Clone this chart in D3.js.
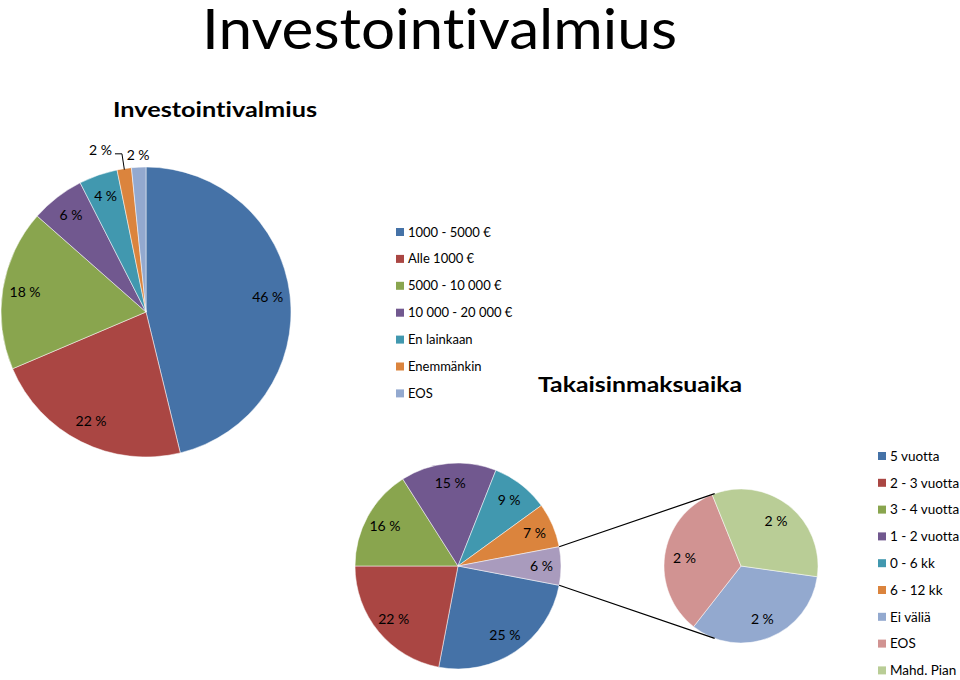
<!DOCTYPE html>
<html>
<head>
<meta charset="utf-8">
<script src="https://cdn.jsdelivr.net/npm/d3@7/dist/d3.min.js"></script>
<style>
  html, body { margin: 0; padding: 0; background: #ffffff; }
  svg { display: block; }
  text { font-family: Lato, "Open Sans", "DejaVu Sans", sans-serif; fill: #000; font-variant-ligatures: none; }
</style>
</head>
<body>
<svg id="chart" width="960" height="680"></svg>
<script>
// ---- Data ----
const mainTitle = "Investointivalmius";
const chart1Title = "Investointivalmius";
const chart1Categories = ["1000 - 5000 €", "Alle 1000 €", "5000 - 10 000 €", "10 000 - 20 000 €", "En lainkaan", "Enemmänkin", "EOS"];
const chart1Values = [46.2, 22.4, 17.9, 6.0, 4.3, 1.6, 1.6];
const chart1Colors = ["#4572A7", "#AA4643", "#89A54E", "#71588F", "#4198AF", "#DB843D", "#93A9CF"];

const chart2Title = "Takaisinmaksuaika";
const chart2Categories = ["5 vuotta", "2 - 3 vuotta", "3 - 4 vuotta", "1 - 2 vuotta", "0 - 6 kk", "6 - 12 kk", "Ei väliä", "EOS", "Mahd. Pian"];
const chart2Values = [25, 22, 16, 15, 9, 7, 2, 2, 2];
const chart2Colors = ["#4572A7", "#AA4643", "#89A54E", "#71588F", "#4198AF", "#DB843D", "#93A9CF", "#D19392", "#B9CD96"];
const chart2PrimaryCount = 6;          // first six in the main pie, rest in secondary pie
const otherColor = "#A99BBD";

// ---- Helpers ----
const svg = d3.select("#chart");
const deg = Math.PI / 180;
const fmt = v => Math.round(v) + " %";
const polar = (cx, cy, r, a) => [cx + r * Math.sin(a), cy - r * Math.cos(a)];

// ---- Main title ----
svg.append("text")
  .attr("x", 202).attr("y", 49)
  .attr("font-size", 57)
  .attr("textLength", 475).attr("lengthAdjust", "spacingAndGlyphs")
  .text(mainTitle);

// ---- Chart 1 ----
svg.append("text")
  .attr("x", 113).attr("y", 117)
  .attr("font-size", 21).attr("font-weight", "bold")
  .attr("textLength", 204).attr("lengthAdjust", "spacingAndGlyphs")
  .text(chart1Title);

const c1 = { cx: 146, cy: 312, r: 145 };
const pie1 = d3.pie().sort(null).value(d => d.v).startAngle(0).endAngle(2 * Math.PI);
const arcs1 = pie1(chart1Values.map((v, i) => ({ v, c: chart1Categories[i], col: chart1Colors[i], i })));
const arc1 = d3.arc().innerRadius(0).outerRadius(c1.r);
const g1 = svg.append("g").attr("transform", `translate(${c1.cx},${c1.cy})`);
g1.selectAll("path").data(arcs1).join("path")
  .attr("d", arc1).attr("fill", d => d.data.col)
  .attr("stroke", "#fff").attr("stroke-width", 0.5);

arcs1.forEach((d, idx) => {
  const mid = (d.startAngle + d.endAngle) / 2;
  if (d.data.v >= 3) {
    const [x, y] = polar(0, 0, c1.r * 0.845, mid);
    g1.append("text").attr("x", x).attr("y", y).attr("dy", "0.35em")
      .attr("text-anchor", "middle").attr("font-size", 14).text(fmt(d.data.v));
  } else if (idx === arcs1.length - 1) {
    const [x, y] = polar(0, 0, c1.r + 12, mid);
    g1.append("text").attr("x", x).attr("y", y).attr("dy", "0.35em")
      .attr("text-anchor", "middle").attr("font-size", 14).text(fmt(d.data.v));
  } else {
    const [ex, ey] = polar(0, 0, c1.r - 1, mid);
    const [lx, ly] = polar(0, 0, c1.r + 15, mid);
    const hx = lx - 7;
    g1.append("polyline")
      .attr("points", `${ex},${ey} ${lx},${ly} ${hx},${ly}`)
      .attr("fill", "none").attr("stroke", "#000").attr("stroke-width", 1);
    g1.append("text").attr("x", hx - 3).attr("y", ly - 4).attr("dy", "0.35em")
      .attr("text-anchor", "end").attr("font-size", 14).text(fmt(d.data.v));
  }
});

// Legend 1
const leg1 = svg.append("g").attr("transform", "translate(396,232)");
chart1Categories.forEach((c, i) => {
  const row = leg1.append("g").attr("transform", `translate(0,${i * 26.9})`);
  row.append("rect").attr("x", 0).attr("y", -4).attr("width", 8).attr("height", 8).attr("fill", chart1Colors[i]);
  row.append("text").attr("x", 12).attr("y", 0).attr("dy", "0.35em").attr("font-size", 13).text(c);
});

// ---- Chart 2 (pie of pie) ----
svg.append("text")
  .attr("x", 538).attr("y", 392)
  .attr("font-size", 21).attr("font-weight", "bold")
  .attr("textLength", 204).attr("lengthAdjust", "spacingAndGlyphs")
  .text(chart2Title);

const primVals = chart2Values.slice(0, chart2PrimaryCount);
const secVals = chart2Values.slice(chart2PrimaryCount);
const otherVal = d3.sum(secVals);
const total2 = d3.sum(chart2Values);
const otherAngle = otherVal / total2 * 2 * Math.PI;

const c2 = { cx: 458, cy: 566, r: 103 };
const s2 = { cx: 741, cy: 566, r: 77 };

const mainData = primVals.map((v, i) => ({ v, col: chart2Colors[i] })).concat([{ v: otherVal, col: otherColor }]);
const start2 = Math.PI / 2 + otherAngle / 2;
const pie2 = d3.pie().sort(null).value(d => d.v).startAngle(start2).endAngle(start2 + 2 * Math.PI);
const arcs2 = pie2(mainData);
const arc2 = d3.arc().innerRadius(0).outerRadius(c2.r);
const g2 = svg.append("g").attr("transform", `translate(${c2.cx},${c2.cy})`);
g2.selectAll("path").data(arcs2).join("path")
  .attr("d", arc2).attr("fill", d => d.data.col)
  .attr("stroke", "#fff").attr("stroke-width", 0.5);
arcs2.forEach(d => {
  const mid = (d.startAngle + d.endAngle) / 2;
  const [x, y] = polar(0, 0, c2.r * 0.81, mid);
  g2.append("text").attr("x", x).attr("y", y).attr("dy", "0.35em")
    .attr("text-anchor", "middle").attr("font-size", 14).text(fmt(d.data.v));
});

// secondary pie
const secStart = 98 * deg;
const pie3 = d3.pie().sort(null).value(d => d.v).startAngle(secStart).endAngle(secStart + 2 * Math.PI);
const arcs3 = pie3(secVals.map((v, i) => ({ v, col: chart2Colors[chart2PrimaryCount + i] })));
const arc3 = d3.arc().innerRadius(0).outerRadius(s2.r);
const g3 = svg.append("g").attr("transform", `translate(${s2.cx},${s2.cy})`);
g3.selectAll("path").data(arcs3).join("path")
  .attr("d", arc3).attr("fill", d => d.data.col)
  .attr("stroke", "#fff").attr("stroke-width", 0.5);
arcs3.forEach(d => {
  const mid = (d.startAngle + d.endAngle) / 2;
  const [x, y] = polar(0, 0, s2.r * 0.74, mid);
  g3.append("text").attr("x", x).attr("y", y).attr("dy", "0.35em")
    .attr("text-anchor", "middle").attr("font-size", 14).text(fmt(d.data.v));
});

// connector lines
const otherArc = arcs2[arcs2.length - 1];
const p1 = polar(c2.cx, c2.cy, c2.r, otherArc.startAngle);
const p2 = polar(c2.cx, c2.cy, c2.r, otherArc.endAngle);
const q1 = polar(s2.cx, s2.cy, s2.r, -20 * deg);
const q2 = polar(s2.cx, s2.cy, s2.r, 200 * deg);
svg.append("line").attr("x1", p1[0]).attr("y1", p1[1]).attr("x2", q1[0]).attr("y2", q1[1])
  .attr("stroke", "#000").attr("stroke-width", 1.2);
svg.append("line").attr("x1", p2[0]).attr("y1", p2[1]).attr("x2", q2[0]).attr("y2", q2[1])
  .attr("stroke", "#000").attr("stroke-width", 1.2);

// Legend 2
const leg2 = svg.append("g").attr("transform", "translate(878,456)");
chart2Categories.forEach((c, i) => {
  const row = leg2.append("g").attr("transform", `translate(0,${i * 26.8})`);
  row.append("rect").attr("x", 0).attr("y", -4).attr("width", 8).attr("height", 8).attr("fill", chart2Colors[i]);
  row.append("text").attr("x", 12).attr("y", 0).attr("dy", "0.35em").attr("font-size", 13.5).text(c);
});
</script>
</body>
</html>
